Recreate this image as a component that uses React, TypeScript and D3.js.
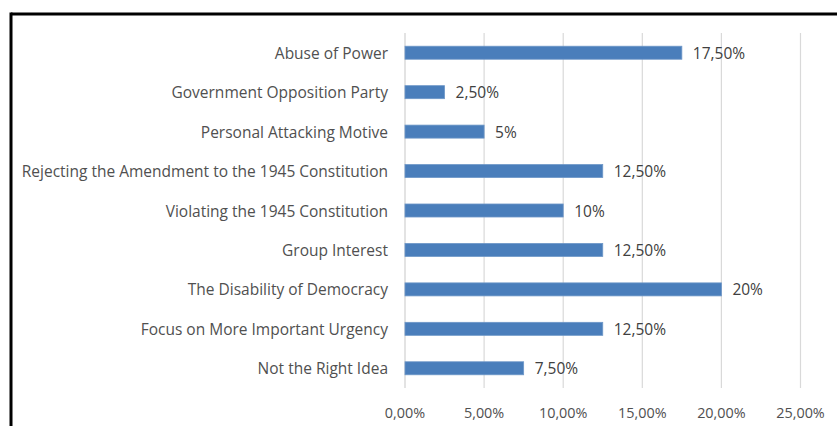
import React from "react";
import * as d3 from "d3";

const categories = [
  "Abuse of Power",
  "Government Opposition Party",
  "Personal Attacking Motive",
  "Rejecting the Amendment to the 1945 Constitution",
  "Violating the 1945 Constitution",
  "Group Interest",
  "The Disability of Democracy",
  "Focus on More Important Urgency",
  "Not the Right Idea",
];
const values = [17.5, 2.5, 5, 12.5, 10, 12.5, 20, 12.5, 7.5];
const xTicks = [0, 5, 10, 15, 20, 25];

const W = 837;
const H = 426;
const FONT = "'Open Sans', 'Liberation Sans', sans-serif";

const fmtTick = (v: number) => v.toFixed(2).replace(".", ",") + "%";
const fmtVal = (v: number) =>
  Number.isInteger(v) ? `${v}%` : v.toFixed(2).replace(".", ",") + "%";

export default function App() {
  const x = d3.scaleLinear().domain([0, 25]).range([405, 800.5]);
  const y = d3.scaleBand<string>().domain(categories).range([33, 388]).paddingInner(0.67).paddingOuter(0.335);

  return (
    <div style={{ position: "absolute", left: 0, top: 0 }}>
      <svg width={W} height={H} style={{ display: "block", background: "#fff" }}>
        {/* frame */}
        <line x1={11} y1={14} x2={W} y2={14} stroke="#000" strokeWidth={3} />
        <line x1={11} y1={12.5} x2={11} y2={H} stroke="#000" strokeWidth={3} />
        {/* gridlines */}
        {xTicks.map((t) => (
          <line key={t} x1={x(t)} x2={x(t)} y1={33} y2={388} stroke={t === 0 ? "#d0d0d0" : "#d9d9d9"} strokeWidth={1.2} />
        ))}
        {/* bars */}
        {categories.map((c, i) => (
          <rect
            key={c}
            x={x(0)}
            y={y(c)!}
            width={x(values[i]) - x(0)}
            height={y.bandwidth()}
            fill="#4a7ebb"
            stroke="#6e97c8"
            strokeWidth={0.8}
          />
        ))}
        {/* category labels */}
        {categories.map((c) => (
          <text
            key={c}
            x={388}
            y={y(c)! + y.bandwidth() / 2}
            textAnchor="end"
            dominantBaseline="central"
            fontFamily={FONT}
            fontSize={15.5}
            fill="#505050"
          >
            {c}
          </text>
        ))}
        {/* value labels */}
        {categories.map((c, i) => (
          <text
            key={c}
            x={x(values[i]) + 11}
            y={y(c)! + y.bandwidth() / 2}
            dominantBaseline="central"
            fontFamily={FONT}
            fontSize={15.5}
            fill="#404040"
          >
            {fmtVal(values[i])}
          </text>
        ))}
        {/* x tick labels */}
        {xTicks.map((t) => (
          <text
            key={t}
            x={x(t)}
            y={412}
            textAnchor="middle"
            dominantBaseline="central"
            fontFamily={FONT}
            fontSize={14.4}
            fill="#505050"
          >
            {fmtTick(t)}
          </text>
        ))}
      </svg>
    </div>
  );
}
